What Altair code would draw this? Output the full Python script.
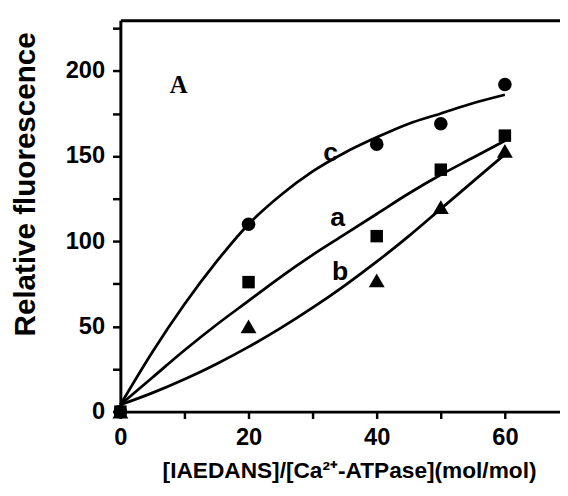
import altair as alt
import pandas as pd

# measured points
x_pts = [0, 20, 40, 50, 60]
a_vals = [0, 76, 103, 142, 162]
b_vals = [0, 50, 77, 120, 153]
c_vals = [0, 110, 157, 169, 192]

# fitted curves
fit_x = [0, 5, 10, 15, 20, 25, 30, 35, 40, 45, 50, 55, 60]
fit_a = [4, 20, 36, 51, 65, 79, 92, 104, 116, 128, 139, 149, 159]
fit_b = [4, 11, 19, 28, 38, 49, 61, 74, 88, 103, 119, 135, 151]
fit_c = [4, 35, 63, 88, 110, 127, 141, 152, 161, 169, 175, 181, 186]

# curve labels
label_text = ["a", "b", "c"]
label_x = [33.9, 34.3, 32.8]
label_y = [113.7, 81.6, 151.6]

panel_text = ["A"]
panel_x = [9.1]
panel_y = [191.5]

x_ticks = [0, 10, 20, 30, 40, 50, 60]
y_ticks = [0, 25, 50, 75, 100, 125, 150, 175, 200, 225]
X_MAX = 68.6
Y_MAX = 229.7

pts = pd.DataFrame({
    "x": x_pts * 3,
    "y": a_vals + b_vals + c_vals,
    "s": ["a"] * 5 + ["b"] * 5 + ["c"] * 5,
})
fits = pd.DataFrame({
    "x": fit_x * 3,
    "y": fit_a + fit_b + fit_c,
    "s": ["a"] * len(fit_x) + ["b"] * len(fit_x) + ["c"] * len(fit_x),
})
labels = pd.DataFrame({"t": label_text, "x": label_x, "y": label_y})
panel = pd.DataFrame({"t": panel_text, "x": panel_x, "y": panel_y})

FONT = "Liberation Sans"
xscale = alt.Scale(domain=[0, X_MAX], nice=False, zero=False)
yscale = alt.Scale(domain=[0, Y_MAX], nice=False, zero=False)

x_axis = alt.Axis(
    values=x_ticks,
    labelExpr="datum.value % 20 == 0 ? datum.label : ''",
    title="[IAEDANS]/[Ca²⁺-ATPase](mol/mol)",
    titleFont=FONT, titleFontSize=23, titleFontWeight="bold",
    titleX=232, titleY=67, titleBaseline="alphabetic", titleAlign="center",
    labelFont=FONT, labelFontSize=24, labelFontWeight="bold", labelColor="black",
    labelPadding=7, tickSize=7, tickWidth=2.5, tickColor="black",
    domainColor="black", domainWidth=3, grid=False, labelFlush=False,
    titleColor="black",
)
y_axis = alt.Axis(
    values=y_ticks,
    labelExpr="datum.value % 50 == 0 ? datum.label : ''",
    title="Relative fluorescence",
    titleFont=FONT, titleFontSize=30, titleFontWeight="bold",
    titleX=-96, titleY=166, titleAngle=270, titleAlign="center", titleBaseline="middle",
    labelFont=FONT, labelFontSize=24, labelFontWeight="bold", labelColor="black",
    labelPadding=8, tickSize=8, tickWidth=2.5, tickColor="black",
    domainColor="black", domainWidth=3, grid=False, labelFlush=False,
    titleColor="black",
)

curves = alt.Chart(fits).mark_line(
    color="black", strokeWidth=2.8, interpolate="monotone"
).encode(
    x=alt.X("x:Q", scale=xscale, axis=x_axis),
    y=alt.Y("y:Q", scale=yscale, axis=y_axis),
    detail="s:N",
)


def point_layer(series, shape, size):
    return alt.Chart(pts).transform_filter(
        alt.datum.s == series
    ).mark_point(filled=True, opacity=1, color="black", shape=shape, size=size).encode(
        x=alt.X("x:Q", scale=xscale, axis=None),
        y=alt.Y("y:Q", scale=yscale, axis=None),
    )


pts_a = point_layer("a", "square", 160)
pts_b = point_layer("b", "triangle-up", 260)
pts_c = point_layer("c", "circle", 190)

curve_labels = alt.Chart(labels).mark_text(
    font=FONT, fontSize=27, fontWeight="bold", color="black", baseline="middle"
).encode(
    x=alt.X("x:Q", scale=xscale, axis=None),
    y=alt.Y("y:Q", scale=yscale, axis=None),
    text="t:N",
)

panel_label = alt.Chart(panel).mark_text(
    font="Liberation Serif", fontSize=25, fontWeight="bold", color="black", baseline="middle"
).encode(
    x=alt.X("x:Q", scale=xscale, axis=alt.Axis(
        orient="top", labels=False, ticks=False, title=None, grid=False,
        domainColor="black", domainWidth=3)),
    y=alt.Y("y:Q", scale=yscale, axis=None),
    text="t:N",
)

chart = alt.layer(curves, pts_a, pts_b, pts_c, curve_labels, panel_label).resolve_axis(
    x="independent", y="independent"
).properties(
    width=446, height=397,
    padding={"left": 114, "top": 9, "right": 0, "bottom": 72},
    autosize=alt.AutoSizeParams(type="none"),
    background="white",
).configure_view(stroke=None)

chart.save("out.html", embed_options={"renderer": "svg", "actions": False})
